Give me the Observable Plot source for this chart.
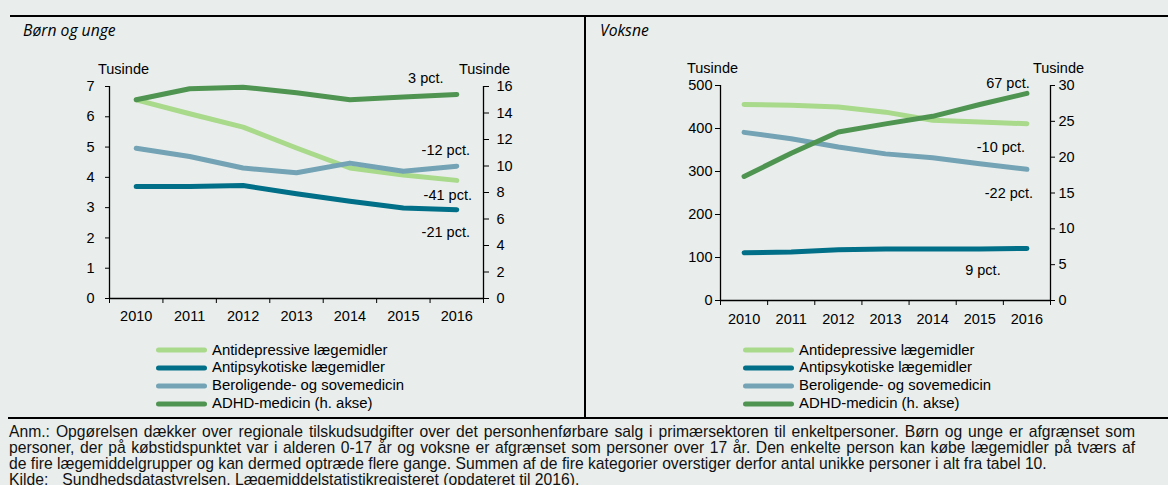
<!DOCTYPE html>
<html><head><meta charset="utf-8">
<script src="https://cdn.jsdelivr.net/npm/d3@7"></script>
<script src="https://cdn.jsdelivr.net/npm/@observablehq/plot@0.6"></script>
<style>
body{margin:0;background:#e9eeec;}
#wrap{position:relative;width:1168px;height:485px;overflow:hidden;background:#e9eeec;font-family:"Liberation Sans",Arial,sans-serif;color:#000;}
.hline{position:absolute;height:2.5px;background:#000;}
.vline{position:absolute;width:2px;background:#000;}
.ptitle{position:absolute;font-family:"Open Sans",sans-serif;font-style:italic;font-size:15.7px;line-height:20px;}
.legend{position:absolute;font-size:14.9px;}
.legend .row{height:17.9px;line-height:17.9px;display:flex;align-items:center;white-space:nowrap;}
.legend svg{margin-right:5px;}
.note{position:absolute;left:9px;top:424px;font-size:15.7px;line-height:16px;color:#111;}
.note div{white-space:nowrap;}
.note div.j{width:1126px;text-align:justify;text-align-last:justify;white-space:normal;}
.note .lead{display:inline-block;margin-right:14px;}
.title{position:absolute;left:20px;top:-17px;font-family:"Open Sans",sans-serif;font-weight:bold;font-size:13.5px;line-height:16px;white-space:nowrap;}
</style></head><body><div id="wrap"></div>
<script>
// ---- data ----
const years = [2010, 2011, 2012, 2013, 2014, 2015, 2016];
const seriesNames = ["Antidepressive lægemidler", "Antipsykotiske lægemidler", "Beroligende- og sovemedicin", "ADHD-medicin (h. akse)"];
const seriesColors = ["#a9d98b", "#006f87", "#73a3b5", "#4f9451"];

// Børn og unge (tusinde); ADHD on right axis
const childAntidep  = [6.56, 6.10, 5.66, 4.97, 4.31, 4.08, 3.90];
const childAntipsyk = [3.70, 3.70, 3.73, 3.46, 3.21, 2.99, 2.93];
const childBerol    = [4.96, 4.69, 4.31, 4.15, 4.47, 4.20, 4.37];
const childADHD     = [15.0, 15.83, 15.95, 15.52, 15.0, 15.2, 15.4];

// Voksne (tusinde); ADHD on right axis
const adultAntidep  = [456, 454, 450, 438, 419, 415, 411];
const adultAntipsyk = [111, 113, 118, 120, 120, 120, 121];
const adultBerol    = [391, 376, 357, 341, 332, 318, 305];
const adultADHD     = [17.3, 20.55, 23.5, 24.65, 25.7, 27.35, 28.9];

const childLeftTicks  = [0, 1, 2, 3, 4, 5, 6, 7];
const childRightTicks = [0, 2, 4, 6, 8, 10, 12, 14, 16];
const adultLeftTicks  = [0, 100, 200, 300, 400, 500];
const adultRightTicks = [0, 5, 10, 15, 20, 25, 30];

const childPct = ["-41 pct.", "-21 pct.", "-12 pct.", "3 pct."];
const adultPct = ["-10 pct.", "9 pct.", "-22 pct.", "67 pct."];

const noteLines = [
  "Anm.: Opgørelsen dækker over regionale tilskudsudgifter over det personhenførbare salg i primærsektoren til enkeltpersoner. Børn og unge er afgrænset som",
  "personer, der på købstidspunktet var i alderen 0-17 år og voksne er afgrænset som personer over 17 år. Den enkelte person kan købe lægemidler på tværs af",
  "de fire lægemiddelgrupper og kan dermed optræde flere gange. Summen af de fire kategorier overstiger derfor antal unikke personer i alt fra tabel 10.",
  "Sundhedsdatastyrelsen, Lægemiddelstatistikregisteret (opdateret til 2016)."
];
const sourceLead = "Kilde:";

// ---- drawing ----
function panel(o) {
  const k = o.leftMax / o.rightMax;
  const data = o.series.map((vals, i) => years.map((yr, j) => ({year: yr, v: i === 3 ? vals[j] * k : vals[j]})));
  const bounds = d3.range(years.length + 1).map(i => years[0] - 0.5 + i);
  const marks = [
    Plot.ruleY([0], {stroke: "#000", strokeWidth: 1.3}),
    Plot.ruleX([bounds[0], bounds[bounds.length - 1]], {stroke: "#000", strokeWidth: 1.3}),
    Plot.axisY(o.leftTicks, {anchor: "left", tickSize: o.lt[0], tickPadding: o.lt[1], label: null, tickFormat: d => String(d), stroke: "#000", strokeOpacity: 1}),
    Plot.axisY(o.rightTicks.map(t => t * k), {anchor: "right", tickSize: o.rt[0], tickPadding: o.rt[1], label: null, tickFormat: d => String(Math.round(d / k)), stroke: "#000", strokeOpacity: 1}),
    Plot.axisX(bounds, {anchor: "bottom", tickSize: 5, tickFormat: () => "", label: null, stroke: "#000", strokeOpacity: 1}),
    Plot.axisX(years, {anchor: "bottom", tickSize: 0, tickPadding: o.xPad, tickFormat: d => String(d), label: null}),
    ...data.map((d, i) => Plot.line(d, {x: "year", y: "v", stroke: seriesColors[i], strokeWidth: 5, strokeLinecap: "round", strokeLinejoin: "round"})),
    ...o.pct.map((t, i) => Plot.text([data[i][data[i].length - 1]], {x: "year", y: "v", text: () => t, dx: o.off[i][0], dy: o.off[i][1], fill: "#000"})),
    Plot.text(["Tusinde"], {frameAnchor: "top-left", textAnchor: "middle", text: d => d, dx: o.tus[0], dy: -23, fill: "#000"}),
    Plot.text(["Tusinde"], {frameAnchor: "top-right", textAnchor: "middle", text: d => d, dx: o.tus[1], dy: -23, fill: "#000"})
  ];
  const svg = Plot.plot({
    width: o.width, height: o.height,
    marginLeft: o.m[0], marginRight: o.m[1], marginTop: o.m[2], marginBottom: o.m[3],
    x: {domain: [bounds[0], bounds[bounds.length - 1]], axis: null},
    y: {domain: [0, o.leftMax], axis: null},
    marks,
    style: {fontFamily: '"Liberation Sans", Arial, sans-serif', fontSize: "14.5px", color: "#000", background: "transparent", overflow: "visible"}
  });
  svg.style.position = "absolute";
  svg.style.left = o.left + "px";
  svg.style.top = "0px";
  return svg;
}

function legend(left, top) {
  const div = document.createElement("div");
  div.className = "legend";
  div.style.left = left + "px";
  div.style.top = top + "px";
  seriesNames.forEach((n, i) => {
    const row = document.createElement("div");
    row.className = "row";
    row.innerHTML = `<svg width="51" height="8"><line x1="2.5" y1="4" x2="48.5" y2="4" stroke="${seriesColors[i]}" stroke-width="5" stroke-linecap="round"/></svg><span>${n}</span>`;
    div.appendChild(row);
  });
  return div;
}

const wrap = document.getElementById("wrap");
wrap.innerHTML = `
<div class="title">Figur 11: Udvikling i antal personer, der køber lægemidler, opdelt efter lægemiddelgruppe og aldersgrupper, 2010-2016</div>
<div class="hline" style="left:10px;top:14.5px;width:1158px;"></div>
<div class="hline" style="left:8px;top:416.5px;width:1160px;"></div>
<div class="vline" style="left:584px;top:15px;height:402px;"></div>
<div class="ptitle" style="left:23px;top:20px;">Børn og unge</div>
<div class="ptitle" style="left:600px;top:20px;">Voksne</div>
`;

wrap.appendChild(panel({
  series: [childAntidep, childAntipsyk, childBerol, childADHD],
  leftMax: 7, rightMax: 16, leftTicks: childLeftTicks, rightTicks: childRightTicks,
  pct: childPct,
  off: [[-9, 15], [-11, 23], [-11, -16], [-31, -16]],
  width: 584, height: 340, left: 0, m: [109, 101, 86, 42],
  lt: [4, 11], rt: [5, 8], xPad: 12, tus: [14, 1]
}));
wrap.appendChild(panel({
  series: [adultAntidep, adultAntipsyk, adultBerol, adultADHD],
  leftMax: 500, rightMax: 30, leftTicks: adultLeftTicks, rightTicks: adultRightTicks,
  pct: adultPct,
  off: [[-26, 24], [-44, 22], [-18, 24], [-19, -10]],
  width: 583, height: 340, left: 585, m: [135, 118, 85, 40],
  lt: [5, 3], rt: [4, 4], xPad: 13, tus: [-8, 8]
}));

wrap.appendChild(legend(156, 341.5));
wrap.appendChild(legend(743, 341.5));

const note = document.createElement("div");
note.className = "note";
note.innerHTML = noteLines.map((t, i) => i === 3
  ? `<div><span class="lead">${sourceLead}</span>${t}</div>`
  : `<div class="${i < 2 ? "j" : ""}">${t}</div>`).join("");
wrap.appendChild(note);
</script>
</body></html>
